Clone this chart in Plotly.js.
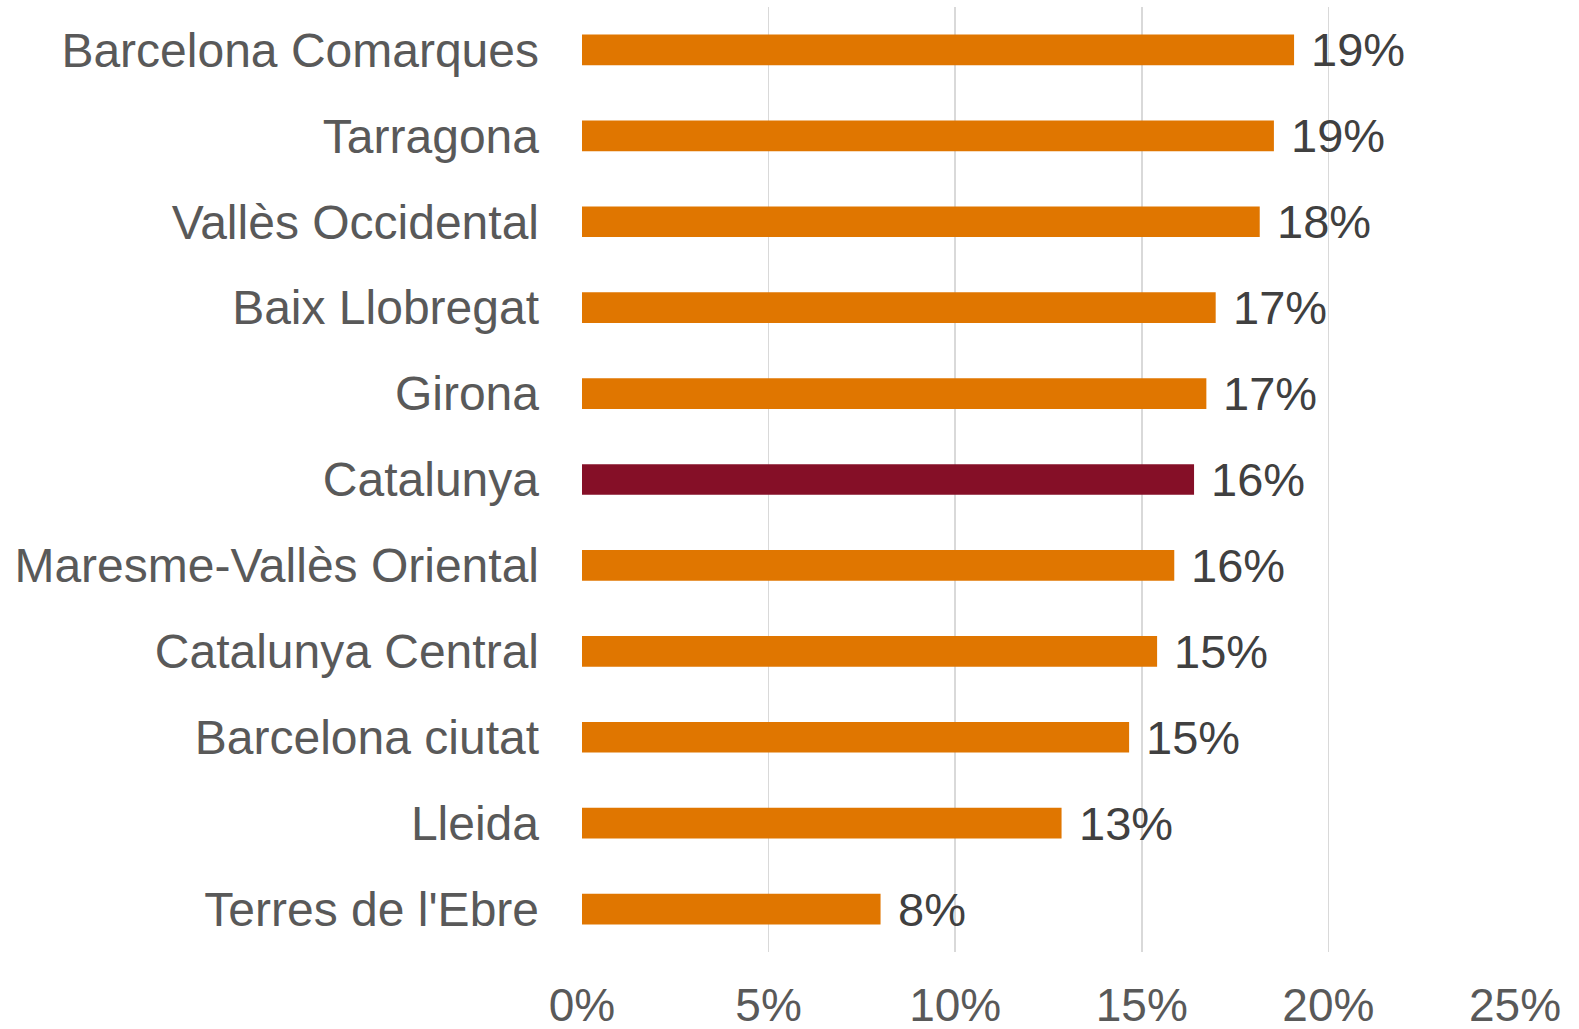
<!DOCTYPE html>
<html>
<head>
<meta charset="utf-8">
<script src="https://cdn.plot.ly/plotly-3.0.1.min.js"></script>
<style>
html,body{margin:0;padding:0;background:#fff;}
#chart{width:1579px;height:1029px;}
</style>
</head>
<body>
<div id="chart"></div>
<script>
const categories = ["Barcelona Comarques","Tarragona","Vallès Occidental","Baix Llobregat","Girona","Catalunya","Maresme-Vallès Oriental","Catalunya Central","Barcelona ciutat","Lleida","Terres de l'Ebre"];
const values = [19.08, 18.54, 18.16, 16.98, 16.73, 16.40, 15.87, 15.41, 14.66, 12.85, 8.0];
const highlight = "Catalunya";
const xTickValues = [0, 5, 10, 15, 20, 25];
const xTickLabels = ["0%", "5%", "10%", "15%", "20%", "25%"];

const ORANGE = "#E07600";
const CRIMSON = "#850F27";
const FONT = "Arial, 'Liberation Sans', sans-serif";

const colors = categories.map(c => c === highlight ? CRIMSON : ORANGE);

const trace = {
  type: "bar",
  orientation: "h",
  x: values,
  y: categories,
  marker: {color: colors},
  hoverinfo: "none"
};

const annotations = categories.map((c, i) => ({
  x: values[i],
  y: c,
  xref: "x",
  yref: "y",
  text: Math.round(values[i]) + "%",
  showarrow: false,
  xanchor: "left",
  yanchor: "middle",
  xshift: 15,
  font: {family: FONT, size: 47, color: "#404040"}
}));

const layout = {
  width: 1579,
  height: 1029,
  margin: {l: 582, r: 64, t: 7, b: 77, pad: 0},
  paper_bgcolor: "#ffffff",
  plot_bgcolor: "#ffffff",
  showlegend: false,
  bargap: 0.643,
  font: {family: FONT},
  xaxis: {
    range: [0, 25],
    tickvals: xTickValues,
    ticktext: xTickLabels,
    showgrid: true,
    gridcolor: "#d9d9d9",
    gridwidth: 1.5,
    zeroline: false,
    showline: false,
    ticks: "",
    ticklabelstandoff: 22,
    tickfont: {family: FONT, size: 46, color: "#595959"},
    fixedrange: true
  },
  yaxis: {
    type: "category",
    categoryorder: "array",
    categoryarray: categories,
    range: [10.5, -0.5],
    showgrid: false,
    zeroline: false,
    showline: false,
    ticks: "",
    ticklabelstandoff: 42,
    tickfont: {family: FONT, size: 48, color: "#595959"},
    fixedrange: true
  },
  annotations: annotations
};

Plotly.newPlot("chart", [trace], layout, {displayModeBar: false, staticPlot: true});
</script>
</body>
</html>
